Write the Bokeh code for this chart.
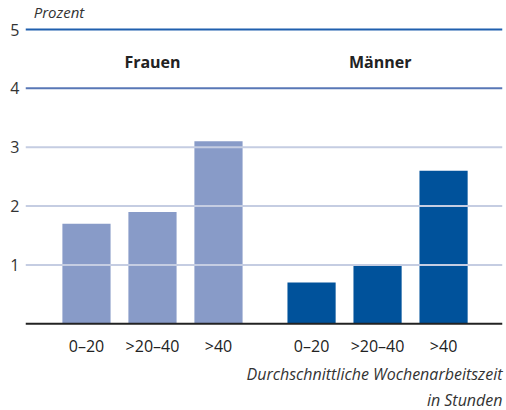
from bokeh.plotting import figure
from bokeh.models import Range1d, FixedTicker, Span, Label, ColumnDataSource, Title
from bokeh.embed import file_html
from bokeh.resources import INLINE

# --- data ---
categories = ["0–20", ">20–40", ">40", "0–20", ">20–40", ">40"]
x_pos = [0, 1, 2, 3.41, 4.41, 5.41]
frauen_values = [1.7, 1.9, 3.1]
maenner_values = [0.7, 1.0, 2.6]
groups = ["Frauen", "Männer"]
group_centers = [1.0, 4.45]
y_ticks = [1, 2, 3, 4, 5]
grid_colors = ["#c5cde2", "#c5cde2", "#c5cde2", "#5877b6", "#1f5fae"]
x_title_lines = ["Durchschnittliche Wochenarbeitszeit", "in Stunden"]

FONT = "Open Sans"

p = figure(width=506, height=410, output_backend="svg", toolbar_location=None,
           x_range=Range1d(-0.924, 6.303), y_range=Range1d(-0.03, 5.493),
           min_border_left=25, min_border_right=4, min_border_top=0, min_border_bottom=85)
p.outline_line_color = None
p.background_fill_color = "white"
p.xgrid.visible = False
p.ygrid.visible = False

# gridlines
for v, c in zip(y_ticks, grid_colors):
    p.add_layout(Span(location=v, dimension="width", line_color=c, line_width=2))

# bars
src_f = ColumnDataSource(dict(x=x_pos[:3], top=frauen_values))
src_m = ColumnDataSource(dict(x=x_pos[3:], top=maenner_values))
p.vbar(x="x", top="top", bottom=0, width=0.73, source=src_f, fill_color="#889bc8", line_color=None)
p.vbar(x="x", top="top", bottom=0, width=0.73, source=src_m, fill_color="#00529b", line_color=None)

# baseline
p.add_layout(Span(location=0, dimension="width", line_color="#222222", line_width=2))

# y axis
p.yaxis.ticker = FixedTicker(ticks=y_ticks)
p.yaxis.axis_line_color = None
p.yaxis.major_tick_line_color = None
p.yaxis.major_tick_out = 0
p.yaxis.major_tick_in = 0
p.yaxis.minor_tick_line_color = None
p.yaxis.major_label_standoff = 6
p.yaxis.major_label_text_font = FONT
p.yaxis.major_label_text_font_size = "16px"
p.yaxis.major_label_text_color = "#333333"

# x axis
p.xaxis.ticker = FixedTicker(ticks=x_pos)
p.xaxis.major_label_overrides = {x: c for x, c in zip(x_pos, categories)}
p.xaxis.axis_line_color = None
p.xaxis.major_tick_line_color = None
p.xaxis.major_tick_out = 0
p.xaxis.major_tick_in = 0
p.xaxis.minor_tick_line_color = None
p.xaxis.major_label_standoff = 9
p.xaxis.major_label_text_font = FONT
p.xaxis.major_label_text_font_size = "16px"
p.xaxis.major_label_text_color = "#222222"

# group labels
for g, gx in zip(groups, group_centers):
    p.add_layout(Label(x=gx, y=4.44, text=g, text_align="center", text_baseline="middle",
                       text_font=FONT, text_font_style="bold", text_font_size="16px",
                       text_color="#222222"))

# unit label
p.add_layout(Label(x=-0.80, y=5.12, text="Prozent", text_align="left", text_baseline="bottom",
                   text_font=FONT, text_font_style="italic", text_font_size="15px",
                   text_color="#333333"))

# x axis title (two lines, right aligned)
for t, so in zip(x_title_lines, [3, 0]):
    p.add_layout(Title(text=t, align="right", standoff=so, text_font=FONT,
                       text_font_style="italic", text_font_size="16px",
                       text_color="#333333"), "below")

open("out.html", "w").write(file_html(p, INLINE))
